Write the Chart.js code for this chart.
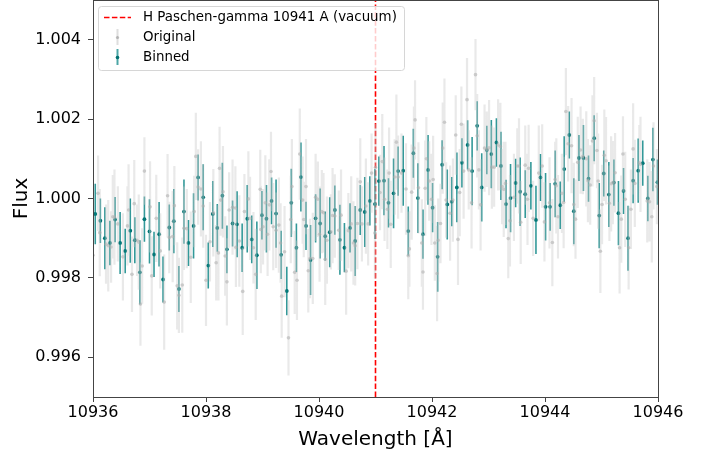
<!DOCTYPE html>
<html>
<head>
<meta charset="utf-8">
<script src="https://cdn.jsdelivr.net/npm/chart.js@4.4.0/dist/chart.umd.min.js"></script>
<style>
  body { margin: 0; background: #fff; }
  #wrap { width: 718px; height: 457px; }
</style>
</head>
<body>
<div id="wrap"><canvas id="fluxChart" width="718" height="457"></canvas></div>
<script>
// binned spectrum around the Paschen-gamma line
const binnedWave = [
  10936.04, 10936.13, 10936.21, 10936.30, 10936.39, 10936.48, 10936.57, 10936.66, 10936.74, 10936.83,
  10936.91, 10937.00, 10937.08, 10937.17, 10937.24, 10937.35, 10937.43, 10937.52, 10937.61,
  10937.69, 10937.78, 10937.86, 10937.95, 10938.04, 10938.12, 10938.20, 10938.29, 10938.37, 10938.47,
  10938.55, 10938.64, 10938.73, 10938.81, 10938.90, 10938.99, 10939.07, 10939.16, 10939.24, 10939.33,
  10939.43, 10939.51, 10939.60, 10939.68, 10939.77, 10939.85, 10939.94, 10940.02, 10940.11, 10940.19,
  10940.28, 10940.37, 10940.45, 10940.55, 10940.64, 10940.73, 10940.81, 10940.90, 10940.99,
  10941.06, 10941.15, 10941.23, 10941.32, 10941.40, 10941.49, 10941.58, 10941.67, 10941.75, 10941.84,
  10941.93, 10942.01, 10942.10, 10942.18, 10942.27, 10942.35, 10942.44, 10942.53, 10942.63,
  10942.71, 10942.80, 10942.88, 10942.97, 10943.05, 10943.14, 10943.22, 10943.31, 10943.39, 10943.48,
  10943.56, 10943.65, 10943.75, 10943.84, 10943.92, 10944.01, 10944.09, 10944.18, 10944.27,
  10944.34, 10944.43, 10944.51, 10944.60, 10944.68, 10944.77, 10944.87, 10944.96, 10945.04, 10945.13,
  10945.22, 10945.30, 10945.39, 10945.47, 10945.56, 10945.65, 10945.73, 10945.82, 10945.91, 10945.99
];
const binnedFlux = [
  0.99961, 0.99944, 0.99900, 0.99888, 0.99947, 0.99888, 0.99868, 0.99919, 0.99895, 0.99814,
  0.99948, 0.99917, 0.99859, 0.99910, 0.99796, 0.99927, 0.99943, 0.99772, 0.99967,
  0.99888, 0.99931, 1.00053, 1.00003, 0.99831, 0.99961, 0.99926, 1.00007, 0.99872, 0.99937,
  0.99935, 0.99876, 0.99949, 0.99897, 0.99857, 0.99958, 0.99949, 0.99994, 0.99962, 0.99858,
  0.99767, 0.99989, 0.99876, 1.00054, 0.99931, 0.99845, 0.99950, 0.99937, 0.99905, 0.99915,
  0.99971, 0.99896, 0.99876, 0.99926, 0.99893, 0.99971, 0.99966, 0.99994, 0.99986,
  1.00044, 1.00045, 0.99989, 1.00013, 1.00069, 1.00070, 0.99918, 1.00114, 1.00001, 0.99910,
  1.00072, 0.99977, 0.99853, 1.00085, 0.99985, 0.99992, 1.00028, 1.00090, 1.00135,
  1.00069, 1.00183, 1.00028, 1.00122, 1.00112, 1.00141, 1.00082, 0.99986, 1.00001, 1.00039,
  1.00017, 1.00011, 1.00032, 0.99946, 1.00053, 0.99979, 0.99979, 1.00037, 0.99983,
  1.00074, 1.00160, 0.99968, 1.00102, 1.00102, 1.00050, 1.00152, 0.99957, 1.00063, 1.00010,
  1.00040, 0.99963, 1.00019, 0.99900, 1.00045, 1.00070, 1.00089, 1.00000, 1.00098, 1.00041
];
const binnedErr = [
  0.00076, 0.00056, 0.00078, 0.00056, 0.00057, 0.00078, 0.00056, 0.00081, 0.00058, 0.00081,
  0.00057, 0.00081, 0.00057, 0.00081, 0.00058, 0.00058, 0.00081, 0.00058, 0.00081,
  0.00058, 0.00082, 0.00058, 0.00083, 0.00058, 0.00083, 0.00060, 0.00083, 0.00060, 0.00058,
  0.00083, 0.00061, 0.00085, 0.00060, 0.00085, 0.00061, 0.00085, 0.00059, 0.00086, 0.00061,
  0.00061, 0.00086, 0.00061, 0.00087, 0.00061, 0.00088, 0.00061, 0.00088, 0.00062, 0.00088,
  0.00062, 0.00088, 0.00062, 0.00062, 0.00088, 0.00063, 0.00088, 0.00062, 0.00088,
  0.00062, 0.00087, 0.00062, 0.00088, 0.00062, 0.00088, 0.00062, 0.00062, 0.00088, 0.00062,
  0.00088, 0.00062, 0.00088, 0.00062, 0.00088, 0.00062, 0.00088, 0.00062, 0.00062,
  0.00086, 0.00062, 0.00086, 0.00061, 0.00086, 0.00061, 0.00086, 0.00061, 0.00086, 0.00061,
  0.00086, 0.00060, 0.00060, 0.00086, 0.00059, 0.00085, 0.00060, 0.00084, 0.00060,
  0.00083, 0.00059, 0.00083, 0.00058, 0.00083, 0.00058, 0.00058, 0.00082, 0.00058, 0.00082,
  0.00058, 0.00081, 0.00058, 0.00082, 0.00057, 0.00081, 0.00057, 0.00057, 0.00080, 0.00057
];

// unbinned pixels
const origWave = [
  10936.00, 10936.09, 10936.12, 10936.23, 10936.27, 10936.32, 10936.35, 10936.38, 10936.44, 10936.53,
  10936.61, 10936.63, 10936.69, 10936.73, 10936.78, 10936.81, 10936.84, 10936.87, 10936.91, 10937.01,
  10937.04, 10937.12, 10937.19, 10937.26, 10937.32, 10937.35, 10937.41, 10937.44, 10937.49, 10937.52,
  10937.58, 10937.61, 10937.66, 10937.73, 10937.79, 10937.82, 10937.86, 10937.91, 10937.95, 10938.00,
  10938.07, 10938.13, 10938.18, 10938.22, 10938.24, 10938.26, 10938.30, 10938.34, 10938.37, 10938.41,
  10938.47, 10938.52, 10938.53, 10938.59, 10938.65, 10938.68, 10938.75, 10938.78, 10938.84, 10938.88,
  10938.96, 10938.97, 10939.01, 10939.05, 10939.09, 10939.12, 10939.15, 10939.19, 10939.24, 10939.29,
  10939.34, 10939.32, 10939.39, 10939.46, 10939.50, 10939.52, 10939.57, 10939.61, 10939.66, 10939.71,
  10939.73, 10939.77, 10939.81, 10939.84, 10939.89, 10939.94, 10939.98, 10940.01, 10940.05, 10940.08,
  10940.11, 10940.14, 10940.21, 10940.24, 10940.28, 10940.35, 10940.39, 10940.48, 10940.52, 10940.57,
  10940.61, 10940.64, 10940.68, 10940.73, 10940.76, 10940.83, 10940.87, 10940.93, 10940.99, 10941.00,
  10941.08, 10941.12, 10941.16, 10941.21, 10941.24, 10941.27, 10941.34, 10941.37, 10941.40, 10941.46,
  10941.54, 10941.58, 10941.60, 10941.64, 10941.68, 10941.70, 10941.76, 10941.82, 10941.84, 10941.88,
  10941.90, 10941.95, 10941.99, 10942.02, 10942.05, 10942.09, 10942.11, 10942.15, 10942.19, 10942.22,
  10942.25, 10942.32, 10942.37, 10942.42, 10942.46, 10942.49, 10942.52, 10942.56, 10942.62, 10942.65,
  10942.70, 10942.77, 10942.80, 10942.83, 10942.86, 10942.93, 10942.97, 10943.01, 10943.06, 10943.10,
  10943.17, 10943.21, 10943.24, 10943.27, 10943.30, 10943.35, 10943.38, 10943.45, 10943.51, 10943.54,
  10943.57, 10943.65, 10943.69, 10943.71, 10943.79, 10943.89, 10943.95, 10943.99, 10944.08, 10944.13,
  10944.18, 10944.20, 10944.23, 10944.30, 10944.33, 10944.37, 10944.41, 10944.47, 10944.51, 10944.54,
  10944.58, 10944.63, 10944.67, 10944.73, 10944.76, 10944.80, 10944.84, 10944.87, 10944.92, 10944.94,
  10944.98, 10945.01, 10945.05, 10945.08, 10945.14, 10945.17, 10945.20, 10945.24, 10945.32, 10945.35,
  10945.38, 10945.42, 10945.48, 10945.52, 10945.56, 10945.59, 10945.67, 10945.69, 10945.81, 10945.85,
  10945.89, 10945.92, 10945.98
];
const origFlux = [
  0.99857, 1.00013, 0.99914, 0.99885, 0.99881, 0.99878, 0.99954, 0.99953, 0.99936, 0.99853,
  0.99931, 0.99971, 0.99809, 0.99987, 0.99895, 0.99890, 0.99734, 0.99830, 1.00069, 0.99979,
  0.99805, 0.99950, 0.99868, 0.99739, 1.00007, 0.99902, 0.99904, 0.99982, 0.99780, 0.99756,
  0.99782, 0.99925, 0.99924, 0.99852, 0.99967, 1.00106, 1.00029, 1.00024, 0.99981, 0.99794,
  0.99891, 0.99964, 0.99838, 0.99863, 1.00076, 0.99996, 1.00017, 0.99855, 0.99790, 0.99971,
  0.99978, 0.99976, 0.99877, 0.99893, 0.99766, 0.99967, 0.99999, 0.99950, 0.99876, 0.99809,
  1.00023, 0.99922, 0.99929, 0.99989, 0.99910, 0.99984, 1.00068, 0.99929, 0.99920, 0.99933,
  0.99754, 0.99888, 0.99866, 0.99649, 0.99947, 1.00030, 0.99814, 0.99794, 1.00112, 0.99996,
  0.99947, 1.00030, 0.99818, 0.99849, 0.99849, 1.00003, 0.99998, 0.99910, 0.99967, 0.99964,
  0.99847, 0.99895, 0.99916, 0.99957, 0.99956, 0.99920, 0.99958, 0.99817, 0.99919, 0.99936,
  0.99888, 0.99881, 0.99937, 1.00042, 0.99936, 0.99981, 0.99936, 1.00064, 0.99913, 1.00078,
  1.00015, 1.00093, 0.99998, 0.99973, 1.00064, 0.99935, 1.00054, 1.00142, 1.00054, 1.00064,
  1.00024, 0.99856, 0.99873, 1.00016, 1.00127, 1.00198, 1.00027, 0.99888, 0.99815, 1.00026,
  1.00100, 1.00044, 0.99998, 1.00048, 0.99888, 0.99811, 0.99895, 0.99937, 1.00127, 1.00192,
  0.99996, 0.99963, 0.99996, 1.00160, 0.99897, 1.00015, 1.00187, 1.00069, 1.00249, 1.00072,
  0.99989, 1.00312, 1.00158, 1.00072, 0.99984, 1.00127, 1.00124, 1.00128, 1.00079, 1.00079,
  1.00135, 1.00131, 1.00030, 1.00023, 1.00038, 0.99899, 0.99944, 1.00003, 1.00082, 1.00082,
  0.99940, 1.00084, 0.99998, 1.00076, 0.99950, 1.00064, 1.00082, 0.99941, 0.99989, 0.99889,
  1.00048, 1.00032, 0.99954, 1.00013, 0.99990, 1.00219, 1.00138, 1.00133, 0.99985, 0.99948,
  1.00091, 1.00122, 1.00106, 1.00100, 1.00045, 1.00034, 1.00145, 1.00196, 1.00121, 1.00044,
  0.99867, 0.99985, 1.00109, 1.00095, 0.99988, 1.00037, 1.00040, 1.00065, 0.99876, 0.99948,
  1.00112, 0.99998, 0.99876, 0.99973, 1.00125, 1.00038, 1.00090, 1.00086, 0.99994, 0.99992,
  0.99954, 1.00082, 1.00030
];
const origErr = [
  0.00105, 0.00095, 0.00110, 0.00100, 0.00115, 0.00090, 0.00105, 0.00120, 0.00095, 0.00110,
  0.00100, 0.00115, 0.00095, 0.00110, 0.00090, 0.00120, 0.00105, 0.00095, 0.00085, 0.00115,
  0.00100, 0.00110, 0.00095, 0.00120, 0.00105, 0.00090, 0.00115, 0.00100, 0.00110, 0.00095,
  0.00120, 0.00105, 0.00100, 0.00115, 0.00090, 0.00110, 0.00095, 0.00120, 0.00105, 0.00115,
  0.00100, 0.00110, 0.00095, 0.00120, 0.00105, 0.00090, 0.00115, 0.00100, 0.00110, 0.00095,
  0.00120, 0.00105, 0.00100, 0.00115, 0.00110, 0.00095, 0.00120, 0.00105, 0.00090, 0.00115,
  0.00100, 0.00110, 0.00095, 0.00120, 0.00105, 0.00115, 0.00100, 0.00110, 0.00095, 0.00120,
  0.00105, 0.00100, 0.00115, 0.00095, 0.00110, 0.00120, 0.00105, 0.00100, 0.00115, 0.00110,
  0.00095, 0.00120, 0.00105, 0.00100, 0.00115, 0.00110, 0.00095, 0.00120, 0.00105, 0.00100,
  0.00115, 0.00110, 0.00095, 0.00120, 0.00105, 0.00100, 0.00115, 0.00110, 0.00095, 0.00120,
  0.00105, 0.00100, 0.00115, 0.00110, 0.00095, 0.00120, 0.00105, 0.00100, 0.00115, 0.00110,
  0.00095, 0.00120, 0.00105, 0.00100, 0.00115, 0.00110, 0.00095, 0.00120, 0.00105, 0.00100,
  0.00115, 0.00110, 0.00095, 0.00120, 0.00105, 0.00100, 0.00115, 0.00110, 0.00095, 0.00120,
  0.00105, 0.00100, 0.00115, 0.00110, 0.00095, 0.00120, 0.00105, 0.00100, 0.00115, 0.00110,
  0.00095, 0.00120, 0.00105, 0.00100, 0.00115, 0.00110, 0.00095, 0.00120, 0.00105, 0.00100,
  0.00115, 0.00090, 0.00105, 0.00100, 0.00115, 0.00110, 0.00095, 0.00120, 0.00105, 0.00100,
  0.00115, 0.00110, 0.00095, 0.00120, 0.00105, 0.00100, 0.00115, 0.00110, 0.00095, 0.00120,
  0.00105, 0.00100, 0.00115, 0.00110, 0.00095, 0.00120, 0.00105, 0.00100, 0.00115, 0.00110,
  0.00095, 0.00120, 0.00105, 0.00100, 0.00115, 0.00110, 0.00095, 0.00120, 0.00105, 0.00100,
  0.00115, 0.00110, 0.00095, 0.00120, 0.00105, 0.00100, 0.00115, 0.00110, 0.00095, 0.00120,
  0.00105, 0.00100, 0.00115, 0.00110, 0.00095, 0.00120, 0.00105, 0.00100, 0.00115, 0.00110,
  0.00095, 0.00120, 0.00105, 0.00100, 0.00115, 0.00110, 0.00095, 0.00120, 0.00105, 0.00100,
  0.00115, 0.00110, 0.00095
];

const lineCenter = 10941;
const lineLabel = 'H Paschen-gamma 10941 A (vacuum)';
const xTicks = [10936, 10938, 10940, 10942, 10944, 10946];
const yTicks = [0.996, 0.998, 1.000, 1.002, 1.004];

const FONT = "'DejaVu Sans', sans-serif";

// vertical segments, one per point, broken apart with null gaps
function errorSegments(xs, ys, es) {
    const out = [];
    xs.forEach((x, i) => {
        out.push({ x: x, y: ys[i] - es[i] });
        out.push({ x: x, y: ys[i] + es[i] });
        out.push({ x: x, y: null });
    });
    return out;
}

function points(xs, ys) {
    return xs.map((x, i) => ({ x: x, y: ys[i] }));
}

// matplotlib-like frame and legend
const framePlugin = {
    id: 'frame',
    afterDraw(chart) {
        const ctx = chart.ctx;
        const a = chart.chartArea;
        ctx.save();
        ctx.strokeStyle = '#444';
        ctx.lineWidth = 1;
        ctx.strokeRect(a.left + 0.5, a.top + 0.5, a.right - a.left, a.bottom - a.top);

        // legend box
        const bx = 98.5, by = 6.5, bw = 306, bh = 64;
        ctx.beginPath();
        ctx.roundRect(bx, by, bw, bh, 3);
        ctx.fillStyle = 'rgba(255,255,255,0.8)';
        ctx.fill();
        ctx.strokeStyle = '#d6d6d6';
        ctx.stroke();

        // red dashed handle
        ctx.beginPath();
        ctx.setLineDash([5.5, 2.4]);
        ctx.strokeStyle = 'red';
        ctx.lineWidth = 1.5;
        ctx.moveTo(104, 17.5);
        ctx.lineTo(131, 17.5);
        ctx.stroke();
        ctx.setLineDash([]);

        // gray errorbar handle
        ctx.beginPath();
        ctx.strokeStyle = 'rgba(190,190,190,0.5)';
        ctx.lineWidth = 2;
        ctx.moveTo(117.5, 29);
        ctx.lineTo(117.5, 45);
        ctx.stroke();
        ctx.beginPath();
        ctx.fillStyle = 'rgba(150,150,150,0.6)';
        ctx.arc(117.5, 37.5, 1.6, 0, Math.PI * 2);
        ctx.fill();

        // teal errorbar handle
        ctx.beginPath();
        ctx.strokeStyle = 'rgba(0,128,128,0.7)';
        ctx.lineWidth = 2;
        ctx.moveTo(117.5, 49);
        ctx.lineTo(117.5, 65);
        ctx.stroke();
        ctx.beginPath();
        ctx.fillStyle = '#006f6f';
        ctx.arc(117.5, 57.5, 1.8, 0, Math.PI * 2);
        ctx.fill();

        ctx.fillStyle = '#000';
        ctx.font = '13.4px ' + FONT;
        ctx.textBaseline = 'middle';
        ctx.fillText(lineLabel, 143, 18);
        ctx.fillText('Original', 143, 38);
        ctx.fillText('Binned', 143, 58);
        ctx.restore();
    }
};

const ctx = document.getElementById('fluxChart').getContext('2d');

const fluxChart = new Chart(ctx, {
    type: 'scatter',
    data: {
        datasets: [
            {
                type: 'line',
                label: 'Original err',
                data: errorSegments(origWave, origFlux, origErr),
                borderColor: 'rgba(200,200,200,0.4)',
                borderWidth: 2.2,
                pointRadius: 0,
                spanGaps: false
            },
            {
                label: 'Original',
                data: points(origWave, origFlux),
                pointRadius: 1.8,
                pointBackgroundColor: 'rgba(160,160,160,0.55)',
                pointBorderWidth: 0
            },
            {
                type: 'line',
                label: 'Binned err',
                data: errorSegments(binnedWave, binnedFlux, binnedErr),
                borderColor: 'rgba(0,128,128,0.8)',
                borderWidth: 1.6,
                pointRadius: 0,
                spanGaps: false
            },
            {
                label: 'Binned',
                data: points(binnedWave, binnedFlux),
                pointRadius: 1.9,
                pointBackgroundColor: '#006f6f',
                pointBorderWidth: 0
            },
            {
                type: 'line',
                label: lineLabel,
                data: [{ x: lineCenter, y: 0.995 }, { x: lineCenter, y: 1.005 }],
                borderColor: 'red',
                borderWidth: 1.6,
                borderDash: [5.5, 2.4],
                pointRadius: 0
            }
        ]
    },
    options: {
        responsive: false,
        animation: false,
        devicePixelRatio: 1,
        layout: { autoPadding: false, padding: { top: 0, right: 60, bottom: 0, left: 0 } },
        plugins: {
            legend: { display: false },
            tooltip: { enabled: false }
        },
        scales: {
            x: {
                type: 'linear',
                min: 10936,
                max: 10946,
                afterBuildTicks: s => { s.ticks = xTicks.map(v => ({ value: v })); },
                afterFit: s => {
                    s.height = 60;
                    s.paddingLeft = 0;
                    s.paddingRight = 0;
                },
                ticks: {
                    color: '#000',
                    font: { family: FONT, size: 16 },
                    padding: 1,
                    maxRotation: 0,
                    callback: v => String(v)
                },
                grid: { drawOnChartArea: false, tickLength: 5, color: '#444' },
                border: { display: true, color: '#444' },
                title: {
                    display: true,
                    text: 'Wavelength [Å]',
                    color: '#000',
                    font: { family: FONT, size: 20 },
                    padding: { top: 0, bottom: 5 }
                }
            },
            y: {
                type: 'linear',
                min: 0.995,
                max: 1.005,
                afterBuildTicks: s => { s.ticks = yTicks.map(v => ({ value: v })); },
                afterFit: s => {
                    s.width = 93;
                    s.paddingTop = 0;
                    s.paddingBottom = 0;
                },
                ticks: {
                    color: '#000',
                    font: { family: FONT, size: 16 },
                    padding: 7,
                    callback: v => v.toFixed(3)
                },
                grid: { drawOnChartArea: false, tickLength: 5, color: '#444' },
                border: { display: true, color: '#444' },
                title: {
                    display: true,
                    text: 'Flux',
                    color: '#000',
                    font: { family: FONT, size: 20 },
                    padding: { top: 10, bottom: 0 }
                }
            }
        }
    },
    plugins: [framePlugin]
});
</script>
</body>
</html>
